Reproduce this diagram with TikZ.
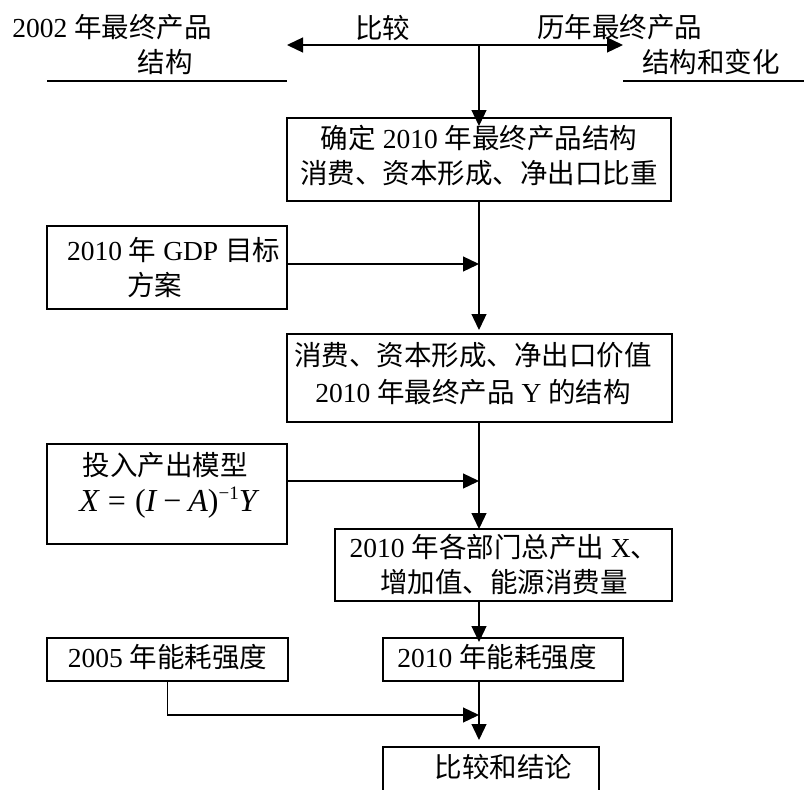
\documentclass[tikz,border=0pt]{standalone}
\usepackage{fontspec}
\setmainfont{Liberation Serif}
\newfontfamily\cjk{Noto Sans CJK SC}
\newcommand{\zh}[1]{{\cjk #1}}
\usetikzlibrary{arrows.meta}
\begin{document}
\begin{tikzpicture}[x=1pt,y=-1pt,
  every node/.style={inner sep=0pt, outer sep=0pt},
  lw/.style={line width=1.3pt},
  boxnode/.style={draw, lw},
  txt/.style={font=\fontsize{27.5pt}{35pt}\selectfont, align=center},
  arr/.style={lw, -{Triangle[length=16pt,width=15pt]}}
]
\path[use as bounding box] (0,0) rectangle (804,790);
\clip (0,0) rectangle (804,790);

% top labels
\node[minimum width=240pt, minimum height=81pt] (lgrp) at (167,40.5) {};
\node[minimum width=207pt, minimum height=81pt] (rgrp) at (726.5,40.5) {};
\node[txt] (t1) at (112,27.5) {2002 \zh{年最终产品}};
\node[txt] (t2) at (165,62) {\zh{结构}};
\node[txt] (cmp) at (382.5,27.5) {\zh{比较}};
\node[txt] (t3) at (619.5,27.5) {\zh{历年最终产品}};
\node[txt] (t4) at (711,62) {\zh{结构和变化}};
\draw[lw] (lgrp.south west) -- (lgrp.south east);
\draw[lw] (rgrp.south west) -- (rgrp.south east);

% boxes
\node[boxnode, minimum width=384pt, minimum height=83pt] (b1) at (479,159.5) {};
\node[txt] (b1t) at (479,155.5) {\zh{确定} 2010 \zh{年最终产品结构}\\\zh{消费、资本形成、净出口比重}};

\node[boxnode, minimum width=240pt, minimum height=83pt] (gdp) at (167,267.5) {};
\node[txt, align=left, anchor=west] (gdpt) at (67,267.5) {2010 \zh{年} GDP \zh{目标}\\\hspace*{60pt}\zh{方案}};

\node[boxnode, minimum width=385pt, minimum height=88pt] (b3) at (479.5,378) {};
\node[txt] (b3t) at (473,373.5) {\zh{消费、资本形成、净出口价值}\\[2pt]2010 \zh{年最终产品} Y \zh{的结构}};

\node[boxnode, minimum width=240pt, minimum height=100pt] (io) at (167,494) {};
\node[txt] (iot) at (165,465) {\zh{投入产出模型}};
\node[font=\fontsize{32pt}{32pt}\selectfont] (iof) at (168,503)
  {\itshape X\upshape\hspace{9pt}=\hspace{9pt}(\itshape I\upshape\hspace{7pt}−\hspace{7pt}\itshape A\upshape)\raisebox{12pt}{\fontsize{19pt}{19pt}\selectfont −1}\itshape Y};

\node[boxnode, minimum width=337pt, minimum height=72pt] (b4) at (503.5,565) {};
\node[txt] (b4t) at (504,564.5) {2010 \zh{年各部门总产出} X\zh{、}\\\zh{增加值、能源消费量}};

\node[boxnode, minimum width=241pt, minimum height=43pt] (e05) at (167.5,659.5) {};
\node[txt] (e05t) at (167.5,657) {2005 \zh{年能耗强度}};

\node[boxnode, minimum width=240pt, minimum height=43pt] (e10) at (503,659.5) {};
\node[txt] (e10t) at (497,657) {2010 \zh{年能耗强度}};

\node[boxnode, minimum width=216pt, minimum height=73pt] (fin) at (491,783.5) {};
\node[txt] (fint) at (503.5,767) {\zh{比较和结论}};

% connectors
\coordinate (J) at (479,45);
\draw[arr] (J) -- (J -| lgrp.east);
\draw[arr] (J) -- (J -| rgrp.west);
\draw[arr, shorten >=-8pt] (J) -- (J |- b1.north);
\draw[arr, shorten >=4pt] (b1.south -| J) -- (b3.north -| J);
\coordinate (g1) at ([yshift=3.5pt]gdp.east);
\draw[arr] (g1) -- (g1 -| J);
\draw[arr] (b3.south -| J) -- (b4.north -| J);
\coordinate (i1) at ([yshift=13pt]io.east);
\draw[arr] (i1) -- (i1 -| J);
\draw[arr, shorten >=-4pt] (b4.south -| J) -- (e10.north -| J);
\coordinate (m5) at (479,715);
\draw[arr] (e05.south) |- (m5);
\draw[arr, shorten >=7pt] (e10.south -| J) -- (fin.north -| J);
\end{tikzpicture}
\end{document}
